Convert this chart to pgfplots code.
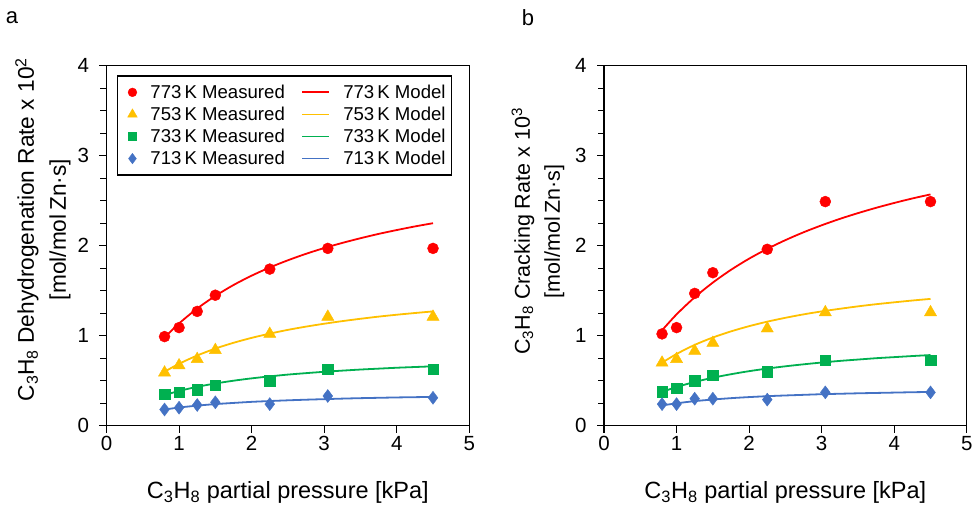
\documentclass[border=0pt]{standalone}
\usepackage{fontspec}
\setmainfont{Liberation Sans}
\usepackage{pgfplots}
\pgfplotsset{compat=1.18}
\definecolor{cred}{RGB}{255,0,0}
\definecolor{cyel}{RGB}{255,192,0}
\definecolor{cgrn}{RGB}{0,176,80}
\definecolor{cblu}{RGB}{68,114,196}

\pgfplotstableread{
x r y g b
0.8  0.99 0.59 0.35 0.18
1.0  1.09 0.67 0.37 0.20
1.25 1.27 0.74 0.40 0.23
1.5  1.45 0.84 0.45 0.26
2.25 1.74 1.02 0.50 0.24
3.05 1.97 1.21 0.63 0.33
4.5  1.97 1.21 0.63 0.31
}\measA
\pgfplotstableread{
x r y g b
0.8  0.980 0.600 0.340 0.180
1.0  1.136 0.688 0.386 0.202
1.25 1.302 0.780 0.432 0.223
1.5  1.442 0.857 0.469 0.240
1.75 1.563 0.921 0.500 0.253
2.0  1.667 0.976 0.526 0.265
2.25 1.758 1.023 0.548 0.274
2.5  1.838 1.065 0.568 0.282
2.75 1.910 1.101 0.584 0.289
3.0  1.974 1.133 0.599 0.295
3.25 2.031 1.162 0.612 0.301
3.5  2.083 1.188 0.624 0.306
3.75 2.131 1.212 0.634 0.310
4.0  2.174 1.233 0.644 0.314
4.25 2.214 1.252 0.652 0.317
4.5  2.250 1.270 0.660 0.320
}\modA
\pgfplotstableread{
x r y g b
0.8  1.02 0.70 0.38 0.24
1.0  1.09 0.74 0.42 0.24
1.25 1.47 0.83 0.50 0.30
1.5  1.70 0.92 0.56 0.30
2.25 1.96 1.08 0.60 0.29
3.05 2.49 1.26 0.73 0.37
4.5  2.49 1.26 0.73 0.37
}\measB
\pgfplotstableread{
x r y g b
0.8  1.060 0.700 0.375 0.225
1.0  1.237 0.797 0.430 0.249
1.25 1.427 0.898 0.486 0.273
1.5  1.590 0.980 0.533 0.291
1.75 1.732 1.048 0.572 0.306
2.0  1.856 1.106 0.606 0.318
2.25 1.965 1.156 0.635 0.328
2.5  2.062 1.199 0.660 0.336
2.75 2.149 1.237 0.682 0.343
3.0  2.227 1.270 0.702 0.350
3.25 2.298 1.299 0.720 0.355
3.5  2.362 1.326 0.735 0.360
3.75 2.421 1.350 0.750 0.364
4.0  2.475 1.371 0.762 0.368
4.25 2.525 1.391 0.774 0.372
4.5  2.570 1.409 0.785 0.375
}\modB

\pgfplotsset{
  panel/.style={
    scale only axis, width=362.8pt, height=360pt,
    xmin=0, xmax=5, ymin=0, ymax=4,
    xtick={0,1,2,3,4,5}, ytick={0,1,2,3,4},
    minor y tick num=3,
    axis line style={black, line width=1.3pt},
    tick style={black, line width=1.1pt},
    major tick length=7pt, minor tick length=6pt,
    tick align=outside,
    xtick pos=bottom, ytick pos=left,
    /pgf/number format/assume math mode=true,
    ticklabel style={font=\fontsize{20.5}{24}\selectfont},
    yticklabel style={xshift=-7pt},
    xlabel={C\textsubscript{3}H\textsubscript{8} partial pressure [kPa]},
    xlabel style={font=\fontsize{23.5}{28}\selectfont, at={(axis description cs:0.5,-0.186)}, anchor=center},
    ylabel style={anchor=center, rotate=0, align=center},
  },
  meas/.style={only marks, mark options={solid},
    legend image code/.code={\path[draw=none,fill=none] (0pt,-4pt) rectangle (20pt,4pt);
      \draw[##1,line width=0.4pt,every mark/.append style={scale=0.8}] plot coordinates {(11pt,0pt)};}},
  mod/.style={no marks, line width=1.8pt, smooth,
    legend image code/.code={\path[draw=none,fill=none] (0pt,-4pt) rectangle (32pt,4pt);
      \draw[##1] (0pt,0pt) -- (27pt,0pt);}},
}

\begin{document}
\begin{tikzpicture}
\useasboundingbox (0,0) rectangle (972pt,507pt);
\node[font=\fontsize{22}{26}\selectfont] at (12pt,489pt) {a};
\node[font=\fontsize{22}{26}\selectfont] at (528pt,489pt) {b};

\begin{axis}[panel, at={(106.5pt,81.3pt)}, anchor=south west,
  ylabel={C\textsubscript{3}H\textsubscript{8} Dehydrogenation Rate x 10\textsuperscript{2}\\ {[mol/mol\,Zn·s]}},
  ylabel style={font=\fontsize{22.7}{32}\selectfont, at={(axis description cs:-0.175,0.545)}},
  legend columns=2,
  legend cell align=left,
  legend style={at={(0.028,0.974)}, anchor=north west, draw=black, line width=1.6pt,
    font=\fontsize{18.6}{21}\selectfont, inner xsep=4pt, inner ysep=7pt,
    row sep=3.1pt,
    /tikz/every odd column/.append style={column sep=7pt},
    /tikz/every even column/.append style={column sep=14.5pt}},
]
\addplot[meas, mark=*, mark size=5.5pt, color=cred] table[x=x,y=r]{\measA};
\addlegendentry{773\,K Measured}
\addplot[mod, color=cred] table[x=x,y=r]{\modA};
\addlegendentry{773\,K Model}
\addplot[meas, mark=triangle*, mark size=7pt, color=cyel] table[x=x,y=y]{\measA};
\addlegendentry{753\,K Measured}
\addplot[mod, color=cyel] table[x=x,y=y]{\modA};
\addlegendentry{753\,K Model}
\addplot[meas, mark=square*, mark size=5.2pt, color=cgrn] table[x=x,y=g]{\measA};
\addlegendentry{733\,K Measured}
\addplot[mod, color=cgrn] table[x=x,y=g]{\modA};
\addlegendentry{733\,K Model}
\addplot[meas, mark=diamond*, mark size=6.5pt, color=cblu] table[x=x,y=b]{\measA};
\addlegendentry{713\,K Measured}
\addplot[mod, color=cblu] table[x=x,y=b]{\modA};
\addlegendentry{713\,K Model}
\end{axis}

\begin{axis}[panel, at={(604pt,81.3pt)}, anchor=south west,
  ylabel={C\textsubscript{3}H\textsubscript{8} Cracking Rate x 10\textsuperscript{3}\\ {[mol/mol\,Zn·s]}},
  ylabel style={font=\fontsize{21.5}{30}\selectfont, at={(axis description cs:-0.182,0.54)}},
]
\addplot[meas, mark=*, mark size=5.5pt, color=cred] table[x=x,y=r]{\measB};
\addplot[mod, color=cred] table[x=x,y=r]{\modB};
\addplot[meas, mark=triangle*, mark size=7pt, color=cyel] table[x=x,y=y]{\measB};
\addplot[mod, color=cyel] table[x=x,y=y]{\modB};
\addplot[meas, mark=square*, mark size=5.2pt, color=cgrn] table[x=x,y=g]{\measB};
\addplot[mod, color=cgrn] table[x=x,y=g]{\modB};
\addplot[meas, mark=diamond*, mark size=6.5pt, color=cblu] table[x=x,y=b]{\measB};
\addplot[mod, color=cblu] table[x=x,y=b]{\modB};
\end{axis}
\end{tikzpicture}
\end{document}
